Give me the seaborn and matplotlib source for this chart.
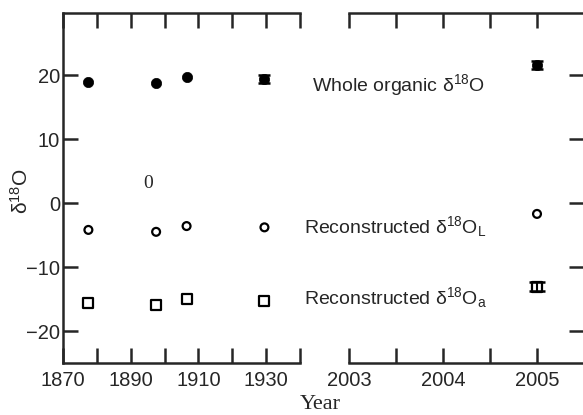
import matplotlib.pyplot as plt
import pandas as pd
import seaborn as sns
from matplotlib.ticker import MultipleLocator, FixedLocator

# values
years = [1877.5, 1897.5, 1906.5, 1929.5, 2005]
whole_organic = [18.9, 18.8, 19.7, 19.4, 21.6]
whole_err = [0, 0, 0, 0.6, 0.6]
recon_L = [-4.2, -4.5, -3.6, -3.8, -1.7]
recon_a = [-15.6, -15.9, -15.0, -15.3, -13.1]
recon_a_err = [0, 0, 0, 0, 0.7]
left_ticks = [1870, 1890, 1910, 1930]
right_ticks = [2003, 2004, 2005]

df = pd.DataFrame({'year': years, 'whole': whole_organic, 'whole_err': whole_err,
                   'L': recon_L, 'a': recon_a, 'a_err': recon_a_err})

sns.set_style("ticks")
plt.rcParams['font.family'] = ['Liberation Sans', 'DejaVu Sans']
plt.rcParams['mathtext.fontset'] = 'custom'
plt.rcParams['mathtext.rm'] = 'Liberation Sans'
plt.rcParams['mathtext.it'] = 'Liberation Sans:italic'
plt.rcParams['axes.linewidth'] = 1.8

W, H = 583, 415
fig = plt.figure(figsize=(W / 100, H / 100), dpi=100)


def px(x0, y0, x1, y1):
    return [x0 / W, 1 - y1 / H, (x1 - x0) / W, (y1 - y0) / H]


ax1 = fig.add_axes(px(63, 13, 300, 363))
ax2 = fig.add_axes(px(349, 13, 584, 363))

for ax in (ax1, ax2):
    sns.scatterplot(data=df, x='year', y='whole', marker='o', s=55, color='black',
                    edgecolor='black', linewidth=0.5, ax=ax, zorder=3)
    sns.scatterplot(data=df, x='year', y='L', marker='o', s=32, facecolors='none',
                    edgecolor='black', linewidth=1.6, ax=ax, zorder=3)
    sns.scatterplot(data=df, x='year', y='a', marker='s', s=52, facecolors='none',
                    edgecolor='black', linewidth=1.6, ax=ax, zorder=3)
    e = df[df['whole_err'] > 0]
    ax.errorbar(e['year'], e['whole'], yerr=e['whole_err'], fmt='none',
                ecolor='black', elinewidth=1.5, capsize=4, capthick=1.8)
    e = df[df['a_err'] > 0]
    ax.errorbar(e['year'], e['a'], yerr=e['a_err'], fmt='none',
                ecolor='black', elinewidth=1.5, capsize=6, capthick=1.8)
    ax.set_ylim(-25, 29.7)
    ax.set_xlabel('')
    ax.set_ylabel('')
    ax.tick_params(which='both', direction='in', length=11, width=1.8,
                   labelsize=14.5, top=True, bottom=True)
    ax.tick_params(axis='x', pad=6)

ax1.set_xlim(1870, 1940)
ax1.xaxis.set_major_locator(FixedLocator(left_ticks))
ax1.xaxis.set_minor_locator(MultipleLocator(10))
ax1.yaxis.set_major_locator(MultipleLocator(10))
ax1.tick_params(axis='y', left=True, right=False, pad=2)
ax1.spines['right'].set_visible(False)

ax2.set_xlim(2003, 2005.5)
ax2.xaxis.set_major_locator(FixedLocator(right_ticks))
ax2.xaxis.set_minor_locator(MultipleLocator(0.5))
ax2.yaxis.set_major_locator(MultipleLocator(10))
ax2.tick_params(axis='y', left=False, right=True, labelleft=False)
ax2.spines['left'].set_visible(False)
ax2.spines['right'].set_visible(False)

fs = 14
fig.text(312 / W, 1 - 91 / H, 'Whole organic δ$^{18}$O', fontsize=fs, va='baseline')
fig.text(304 / W, 1 - 233 / H, 'Reconstructed δ$^{18}$O$_{\\mathrm{L}}$', fontsize=fs, va='baseline')
fig.text(304 / W, 1 - 304 / H, 'Reconstructed δ$^{18}$O$_{\\mathrm{a}}$', fontsize=fs, va='baseline')
fig.text(21 / W, 1 - 191 / H, 'δ$^{18}$O', fontsize=15, rotation=90, ha='center', va='center')
fig.text(148 / W, 1 - 183 / H, '0', fontsize=14, family='Liberation Serif', ha='center', va='center')
fig.text(320 / W, 1 - 409 / H, 'Year', fontsize=16, family='Liberation Serif', ha='center', va='baseline')

fig.savefig('out.png', dpi=100)
